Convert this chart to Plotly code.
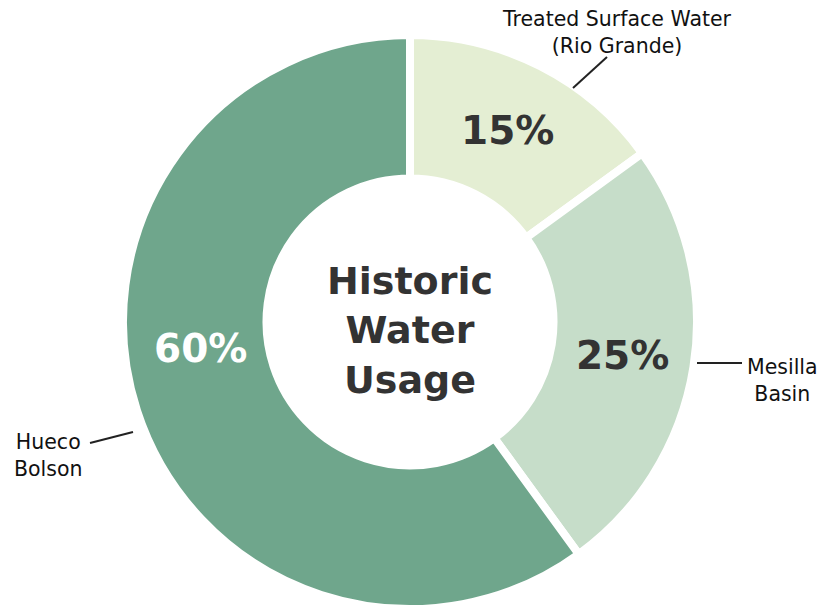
import plotly.graph_objects as go

# Data
categories = ["Treated Surface Water<br>(Rio Grande)", "Mesilla<br>Basin", "Hueco<br>Bolson"]
shares = [15, 25, 60]
slice_colors = ["#e4eed3", "#c6ddc9", "#6fa68c"]
text_colors = ["#333333", "#333333", "#ffffff"]
center_title = "Historic<br>Water<br>Usage"

W, H = 827, 609
FONT = "DejaVu Sans, Liberation Sans, Arial, sans-serif"


def px(x):
    return x / W


def py(y):
    return 1 - y / H


# inside text for the two smaller slices comes from the pie; the big slice's label is placed higher
slice_text = [f"{v}%" for v in shares]
slice_text[2] = ""

fig = go.Figure(
    go.Pie(
        labels=categories,
        values=shares,
        text=slice_text,
        sort=False,
        direction="clockwise",
        rotation=0,
        hole=0.5,
        marker=dict(colors=slice_colors, line=dict(color="white", width=8)),
        textinfo="text",
        textposition="inside",
        insidetextorientation="horizontal",
        insidetextfont=dict(family=FONT, size=39, color=text_colors, weight="bold"),
        domain=dict(x=[px(410 - 287), px(410 + 287)], y=[0, py(322 - 287)]),
        showlegend=False,
        hoverinfo="label+percent",
    )
)

label_font = dict(family=FONT, size=20.5, color="#111111")
annotations = [
    dict(x=px(410), y=py(330), text=center_title, showarrow=False,
         font=dict(family=FONT, size=38, color="#333333", weight="bold")),
    dict(x=px(200), y=py(348), text=f"{shares[2]}%", showarrow=False,
         font=dict(family=FONT, size=39, color=text_colors[2], weight="bold")),
    dict(x=px(617), y=py(32), text=categories[0], showarrow=False, font=label_font),
    dict(x=px(782), y=py(380), text=categories[1], showarrow=False, font=label_font),
    dict(x=px(48), y=py(455), text=categories[2], showarrow=False, font=label_font),
]
for a in annotations:
    a.update(xref="paper", yref="paper", xanchor="center", yanchor="middle", align="center")

leaders = [((573, 88), (607, 57)), ((697, 363), (742, 363)), ((90, 443), (133, 432))]
shapes = [
    dict(type="line", xref="paper", yref="paper", x0=px(a[0]), y0=py(a[1]), x1=px(b[0]), y1=py(b[1]),
         line=dict(color="#222222", width=2))
    for a, b in leaders
]

fig.update_layout(
    width=W, height=H,
    margin=dict(l=0, r=0, t=0, b=0),
    paper_bgcolor="white", plot_bgcolor="white",
    annotations=annotations, shapes=shapes,
)

fig.write_html("out.html")
